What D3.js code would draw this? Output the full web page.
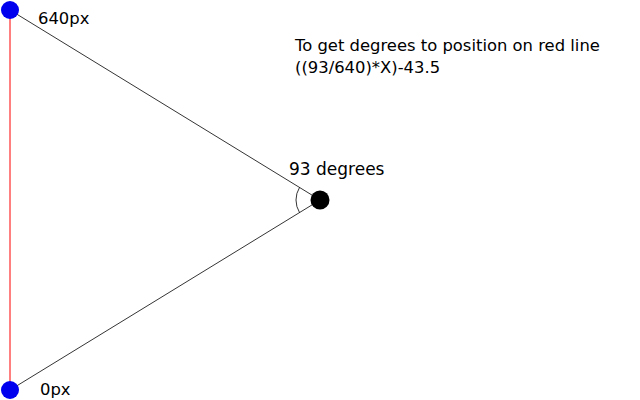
<!DOCTYPE html><html><head><script src="https://d3js.org/d3.v7.min.js"></script>
<style>body{margin:0;background:#fff}text{font-family:"DejaVu Sans";font-size:16.4px}</style></head><body>
<script>
const pxValues=[640,0];
const pxLabels=["640px","0px"];
const angleLabel="93 degrees";
const noteLines=["To get degrees to position on red line","((93/640)*X)-43.5"];
const svg=d3.select("body").append("svg").attr("width",640).attr("height",400);
const y=d3.scaleLinear().domain([0,640]).range([390,10]);
const x0=10, apex=[320,200];
svg.append("line").attr("x1",x0).attr("x2",x0).attr("y1",y(0)).attr("y2",y(640)).attr("stroke","red").attr("stroke-width",1);
pxValues.forEach(v=>svg.append("line").attr("x1",x0).attr("y1",y(v)).attr("x2",apex[0]).attr("y2",apex[1]).attr("stroke","#000").attr("stroke-width",0.8));
const r=24;
const a1=Math.atan2(y(640)-apex[1],x0-apex[0]), a2=Math.atan2(y(0)-apex[1],x0-apex[0]);
const path=d3.path();path.arc(apex[0],apex[1],r,a1,a2,true);
svg.append("path").attr("d",path.toString()).attr("fill","none").attr("stroke","#000").attr("stroke-width",0.8);
svg.append("circle").attr("cx",apex[0]).attr("cy",apex[1]).attr("r",9.5).attr("fill","#000");
pxValues.forEach(v=>svg.append("circle").attr("cx",x0).attr("cy",y(v)).attr("r",9).attr("fill","#0000ee"));
svg.append("text").attr("x",38).attr("y",24).text(pxLabels[0]);
svg.append("text").attr("x",40).attr("y",395).text(pxLabels[1]);
svg.append("text").attr("x",289).attr("y",175).style("font-size","17px").text(angleLabel);
noteLines.forEach((t,i)=>svg.append("text").attr("x",295).attr("y",51+i*22).text(t));
</script></body></html>
